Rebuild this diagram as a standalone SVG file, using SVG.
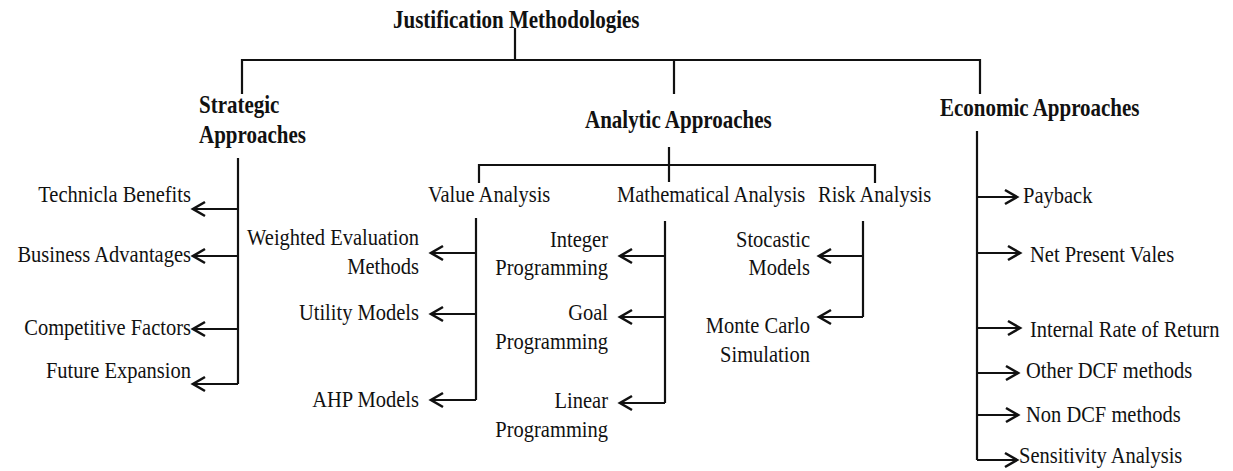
<svg xmlns="http://www.w3.org/2000/svg" width="1233" height="471" viewBox="0 0 1233 471">
<style>
text{font-family:"Liberation Serif","Times New Roman",serif;fill:#111;font-size:20.5px}
.b{font-weight:bold;font-size:21px}
.e{text-anchor:end}
.ln{fill:none;stroke:#111;stroke-width:2.2}
</style>
<defs>
<marker id="ah" markerUnits="userSpaceOnUse" markerWidth="18" markerHeight="20" viewBox="-15 -10 18 20" refX="0" refY="0" orient="auto">
<path d="M-12,-7 L0,0 L-12,7" fill="none" stroke="#111" stroke-width="2.6"/>
</marker>
</defs>
<rect width="1233" height="471" fill="#fff"/>
<g id="connectors" class="ln">
<path d="M515,28 V60 M242,94 V60 H980 V94 M674,60 V94"/>
<path d="M669,147 V182 M479,183 V165 H875 V183"/>
<path d="M238,158 V384"/>
<path d="M238,209 H193" marker-end="url(#ah)"/>
<path d="M238,256 H193" marker-end="url(#ah)"/>
<path d="M238,329 H193" marker-end="url(#ah)"/>
<path d="M238,384 H193" marker-end="url(#ah)"/>
<path d="M476,218 V400"/>
<path d="M476,253 H431" marker-end="url(#ah)"/>
<path d="M476,314 H431" marker-end="url(#ah)"/>
<path d="M476,400 H431" marker-end="url(#ah)"/>
<path d="M665,221 V403"/>
<path d="M665,256 H620" marker-end="url(#ah)"/>
<path d="M665,317 H620" marker-end="url(#ah)"/>
<path d="M665,403 H620" marker-end="url(#ah)"/>
<path d="M863,221 V317"/>
<path d="M863,256 H819" marker-end="url(#ah)"/>
<path d="M863,317 H819" marker-end="url(#ah)"/>
<path d="M977,131 V460"/>
<path d="M977,197 H1017" marker-end="url(#ah)"/>
<path d="M977,253 H1020" marker-end="url(#ah)"/>
<path d="M977,328 H1020" marker-end="url(#ah)"/>
<path d="M977,373 H1018" marker-end="url(#ah)"/>
<path d="M977,415 H1018" marker-end="url(#ah)"/>
<path d="M977,460 H1017" marker-end="url(#ah)"/>
</g>
<g id="root"><text class="b" x="393" y="0" transform="translate(0,28) scale(1,1.15)">Justification Methodologies</text></g>
<g id="strategic"><text class="b" x="199" y="0" transform="translate(0,113) scale(1,1.15)">Strategic</text><text class="b" x="199" y="0" transform="translate(0,143) scale(1,1.15)">Approaches</text></g>
<g id="analytic"><text class="b" x="585" y="0" transform="translate(0,128) scale(1,1.15)">Analytic Approaches</text></g>
<g id="economic"><text class="b" x="940" y="0" transform="translate(0,116) scale(1,1.15)">Economic Approaches</text></g>
<g id="technical"><text class="e" x="191" y="0" transform="translate(0,202) scale(1,1.15)">Technicla Benefits</text></g>
<g id="business"><text class="e" x="191" y="0" transform="translate(0,262) scale(1,1.15)">Business Advantages</text></g>
<g id="competitive"><text class="e" x="191" y="0" transform="translate(0,335) scale(1,1.15)">Competitive Factors</text></g>
<g id="future"><text class="e" x="191" y="0" transform="translate(0,378) scale(1,1.15)">Future Expansion</text></g>
<g id="value"><text x="428" y="0" transform="translate(0,202) scale(1,1.15)">Value Analysis</text></g>
<g id="math"><text x="617" y="0" transform="translate(0,202) scale(1,1.15)">Mathematical Analysis</text></g>
<g id="risk"><text x="818" y="0" transform="translate(0,202) scale(1,1.15)">Risk Analysis</text></g>
<g id="weighted"><text class="e" x="419" y="0" transform="translate(0,245) scale(1,1.15)">Weighted Evaluation</text><text class="e" x="419" y="0" transform="translate(0,274) scale(1,1.15)">Methods</text></g>
<g id="utility"><text class="e" x="419" y="0" transform="translate(0,320) scale(1,1.15)">Utility Models</text></g>
<g id="ahp"><text class="e" x="419" y="0" transform="translate(0,407) scale(1,1.15)">AHP Models</text></g>
<g id="integer"><text class="e" x="608" y="0" transform="translate(0,247) scale(1,1.15)">Integer</text><text class="e" x="608" y="0" transform="translate(0,275) scale(1,1.15)">Programming</text></g>
<g id="goal"><text class="e" x="608" y="0" transform="translate(0,320) scale(1,1.15)">Goal</text><text class="e" x="608" y="0" transform="translate(0,349) scale(1,1.15)">Programming</text></g>
<g id="linear"><text class="e" x="608" y="0" transform="translate(0,408) scale(1,1.15)">Linear</text><text class="e" x="608" y="0" transform="translate(0,437) scale(1,1.15)">Programming</text></g>
<g id="stocastic"><text class="e" x="810" y="0" transform="translate(0,247) scale(1,1.15)">Stocastic</text><text class="e" x="810" y="0" transform="translate(0,275) scale(1,1.15)">Models</text></g>
<g id="montecarlo"><text class="e" x="810" y="0" transform="translate(0,333) scale(1,1.15)">Monte Carlo</text><text class="e" x="810" y="0" transform="translate(0,362) scale(1,1.15)">Simulation</text></g>
<g id="payback"><text x="1023" y="0" transform="translate(0,203) scale(1,1.15)">Payback</text></g>
<g id="npv"><text x="1030" y="0" transform="translate(0,262) scale(1,1.15)">Net Present Vales</text></g>
<g id="irr"><text x="1030" y="0" transform="translate(0,337) scale(1,1.15)">Internal Rate of Return</text></g>
<g id="otherdcf"><text x="1026" y="0" transform="translate(0,378) scale(1,1.15)">Other DCF methods</text></g>
<g id="nondcf"><text x="1026" y="0" transform="translate(0,422) scale(1,1.15)">Non DCF methods</text></g>
<g id="sensitivity"><text x="1019" y="0" transform="translate(0,463) scale(1,1.15)">Sensitivity Analysis</text></g>
</svg>
